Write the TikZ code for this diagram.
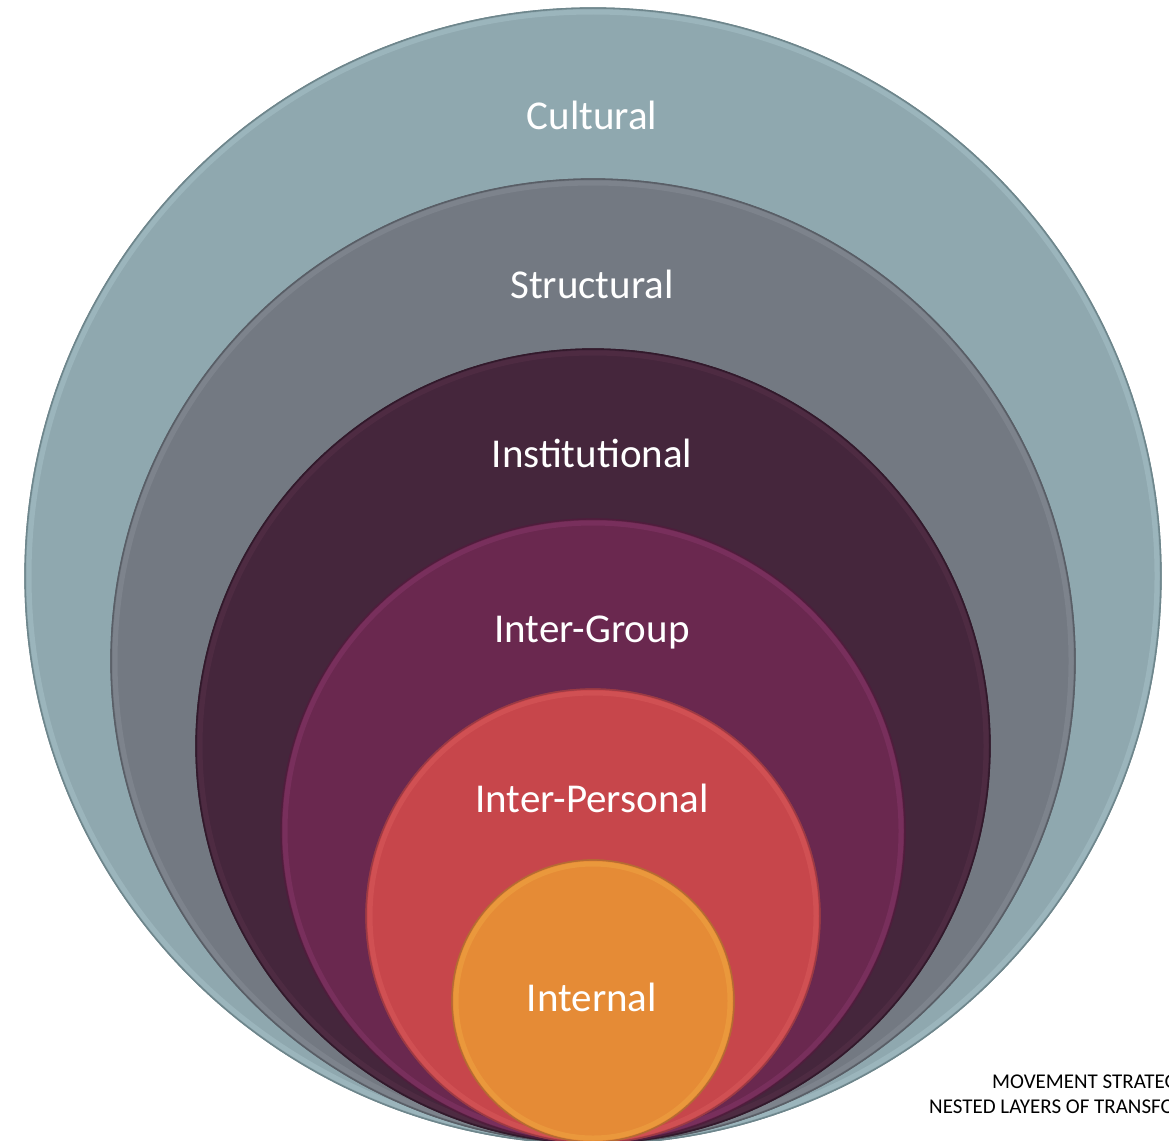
\documentclass[tikz,border=0pt]{standalone}
\usepackage{fontspec}
\setmainfont{Carlito}
\definecolor{cult}{HTML}{8FA8AF}\definecolor{cultrim}{HTML}{A8C2C9}\definecolor{cultline}{HTML}{6E868C}
\definecolor{strc}{HTML}{737982}\definecolor{strcrim}{HTML}{878D96}\definecolor{strcline}{HTML}{595E66}
\definecolor{inst}{HTML}{45263C}\definecolor{instrim}{HTML}{573149}\definecolor{instline}{HTML}{32192B}
\definecolor{igrp}{HTML}{6A284F}\definecolor{igrprim}{HTML}{873769}\definecolor{igrpline}{HTML}{4F1D3C}
\definecolor{iprs}{HTML}{C7464B}\definecolor{iprsrim}{HTML}{D95A5B}\definecolor{iprsline}{HTML}{9B3A44}
\definecolor{intl}{HTML}{E58B36}\definecolor{intlrim}{HTML}{F0A543}\definecolor{intlline}{HTML}{B56A33}
\tikzset{
  layer/.style n args={3}{circle, inner sep=0pt, outer sep=0pt, minimum size=#1, fill=#2, draw=#3, line width=1.3pt},
  lbl/.style={anchor=base, text=white, inner sep=0pt, font=\fontsize{41}{49}\selectfont},
  foot/.style={anchor=base west, text=black, inner sep=0pt, font=\fontsize{21}{25}\selectfont}
}
\begin{document}
\begin{tikzpicture}[x=1pt,y=-1pt]
\useasboundingbox (0,0) rectangle (1169,1140);
\fill[white] (0,0) rectangle (1169,1140);
\begin{scope}
\clip (0,0) rectangle (1169,1140);
\foreach \n/\cy/\r/\f in {cultural/576/568/cult, structural/661/482/strc, institutional/746/397/inst, intergroup/831/312/igrp, interpersonal/916/227/iprs, internal/1001/141/intl}{
  \node[layer={2*\r pt}{\f}{\f line}] (\n) at (593,\cy) {};
  \draw[\f rim, line width=5pt, opacity=0.5] (\n.center) circle[radius=\r pt - 4pt];
  \draw[\f line, line width=1.3pt] (\n.center) circle[radius=\r pt];
}
\node[foot] (foot1) at (992,1088) {MOVEMENT STRATEGY CENTER};
\node[foot] (foot2) at (929,1113) {NESTED LAYERS OF TRANSFORMATION};
\end{scope}
\node[lbl] (lcultural) at (592,129) {Cultural};
\node[lbl] (lstructural) at (592,298) {Structural};
\node[lbl] (linstitutional) at (592,467) {Institutional};
\node[lbl] (lintergroup) at (592,642) {Inter-Group};
\node[lbl] (linterpersonal) at (592,812) {Inter-Personal};
\node[lbl] (linternal) at (592,1011) {Internal};
\end{tikzpicture}
\end{document}
